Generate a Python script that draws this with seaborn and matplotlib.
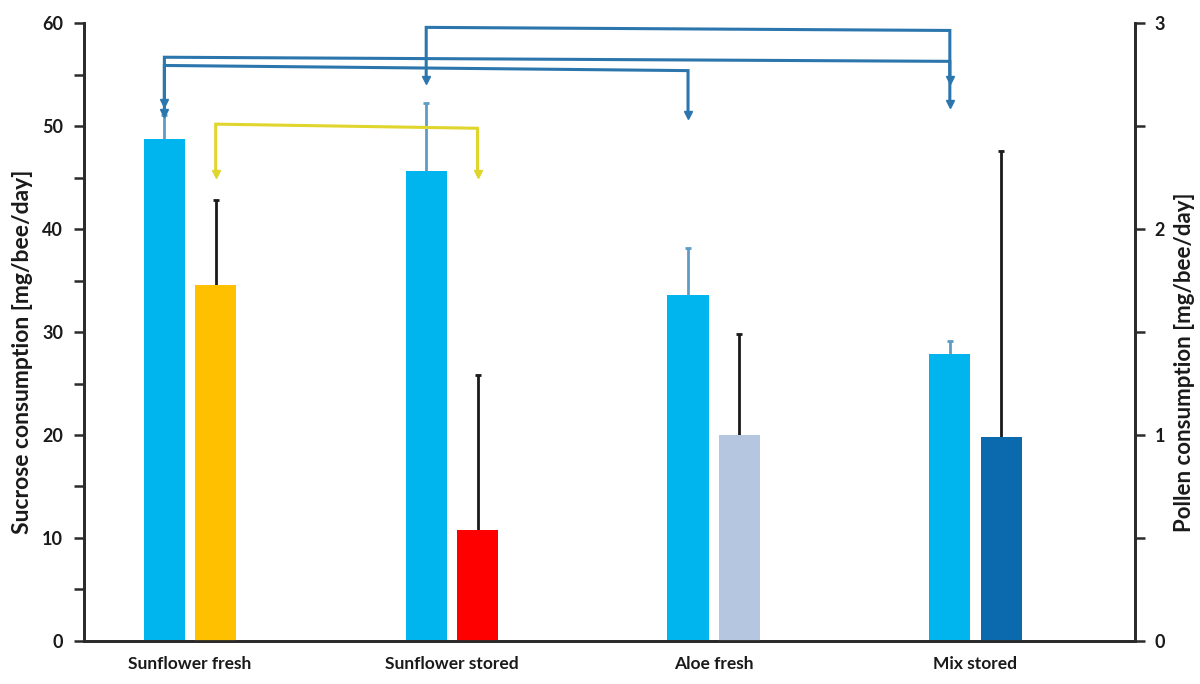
import numpy as np
import pandas as pd
import matplotlib
matplotlib.use("Agg")
import matplotlib.pyplot as plt
import seaborn as sns

# ---- data ----
categories = ["Sunflower fresh", "Sunflower stored", "Aloe fresh", "Mix stored"]
sucrose = [48.8, 45.6, 33.6, 27.9]
sucrose_err = [2.3, 6.7, 4.6, 1.2]
pollen = [1.73, 0.54, 1.00, 0.99]
pollen_err = [0.41, 0.75, 0.49, 1.39]

sucrose_color = "#00B4EE"
pollen_colors = ["#FFC000", "#FF0000", "#B4C6E0", "#0B6AAE"]

# significance brackets (sucrose, blue): group index pairs and heights
blue_from = [1, 0, 0]
blue_to = [3, 3, 2]
blue_top_left = [59.6, 56.7, 55.9]
blue_top_right = [59.3, 56.3, 55.4]
blue_end_left = [54.5, 52.3, 51.3]
blue_end_right = [54.5, 52.2, 51.1]
# pollen bracket (yellow), in pollen units
yellow_from = [0]
yellow_to = [1]
yellow_top_left = [2.51]
yellow_top_right = [2.49]
yellow_end = [2.27]

sucrose_ticks = [0, 10, 20, 30, 40, 50, 60]
pollen_ticks = [0, 1, 2, 3]

# ---- figure ----
sns.set_theme(style="white")
plt.rcParams["font.family"] = ["Lato", "DejaVu Sans"]
plt.rcParams["font.weight"] = "bold"

fig = plt.figure(figsize=(12, 6.84), dpi=100)
ax = fig.add_axes([0.07, 0.063, 0.876, 0.903])
ax2 = ax.twinx()

df_s = pd.DataFrame({"cat": categories, "val": sucrose, "measure": "Sucrose"})
df_p = pd.DataFrame({"cat": categories, "val": pollen, "measure": "Pollen"})
hue_order = ["Sucrose", "Pollen"]
pal = {"Sucrose": sucrose_color, "Pollen": "#888888"}

sns.barplot(data=df_s, x="cat", y="val", hue="measure", hue_order=hue_order,
            palette=pal, width=0.392, gap=0.2, dodge=True, errorbar=None,
            legend=False, saturation=1, ax=ax, zorder=2)
sns.barplot(data=df_p, x="cat", y="val", hue="measure", hue_order=hue_order,
            palette=pal, width=0.392, gap=0.2, dodge=True, errorbar=None,
            legend=False, saturation=1, ax=ax2, zorder=2)

for p, c in zip(ax2.patches, pollen_colors):
    p.set_facecolor(c)
    p.set_edgecolor("none")
for p in ax.patches:
    p.set_edgecolor("none")

s_x = [p.get_x() + p.get_width() / 2 for p in ax.patches]
p_x = [p.get_x() + p.get_width() / 2 for p in ax2.patches]

# one-sided (upper) error bars with caps only at the top
ax.errorbar(s_x, sucrose, yerr=[np.zeros(len(sucrose)), sucrose_err], fmt="none",
            ecolor="#5E9CC6", elinewidth=2, capsize=0, zorder=1.5)
ax.plot(s_x, np.add(sucrose, sucrose_err), ls="none", marker="_", ms=5, mew=2,
        color="#5E9CC6", zorder=1.6)
ax2.errorbar(p_x, pollen, yerr=[np.zeros(len(pollen)), pollen_err], fmt="none",
             ecolor="#1a1a1a", elinewidth=2, capsize=0, zorder=1.5)
ax2.plot(p_x, np.add(pollen, pollen_err), ls="none", marker="_", ms=5, mew=2,
         color="#1a1a1a", zorder=1.6)

blue_c = "#2C76AE"
for a, b, tl, tr, el, er in zip(blue_from, blue_to, blue_top_left, blue_top_right,
                                 blue_end_left, blue_end_right):
    ax.plot([s_x[a], s_x[a], s_x[b], s_x[b]], [el, tl, tr, er], color=blue_c,
            lw=2.2, zorder=5, solid_joinstyle="miter")
    ax.plot([s_x[a], s_x[b]], [el, er], ls="none", marker="v", ms=6,
            color=blue_c, zorder=6)

yel_c = "#E0D52C"
for a, b, tl, tr, e in zip(yellow_from, yellow_to, yellow_top_left,
                           yellow_top_right, yellow_end):
    ax2.plot([p_x[a], p_x[a], p_x[b], p_x[b]], [e, tl, tr, e], color=yel_c,
             lw=2.2, zorder=5, solid_joinstyle="miter")
    ax2.plot([p_x[a], p_x[b]], [e, e], ls="none", marker="v", ms=6,
             color=yel_c, zorder=6)

# ---- axes styling ----
ax.set_xlim(-0.405, 3.61)
ax.set_ylim(0, 60)
ax2.set_ylim(0, 3)
ax.set_yticks(sucrose_ticks)
ax.set_yticks(np.arange(5, 60, 10), minor=True)
ax2.set_yticks(pollen_ticks)
ax2.set_yticks(np.arange(0.5, 3, 1), minor=True)

for a in (ax, ax2):
    a.spines["top"].set_visible(False)
    for s in ("left", "right", "bottom"):
        a.spines[s].set_color("#2b2b2b")
        a.spines[s].set_linewidth(2)
    a.grid(False)

ax.tick_params(axis="y", which="both", direction="out", length=7, width=1.8,
               color="#2b2b2b", left=True, labelsize=13, pad=8)
ax2.tick_params(axis="y", which="both", direction="out", length=7, width=1.8,
                color="#2b2b2b", right=True, labelsize=13, pad=7)
ax.tick_params(axis="x", length=0, labelsize=12.5, pad=11)
for lab in ax.get_xticklabels() + ax.get_yticklabels() + ax2.get_yticklabels():
    lab.set_fontweight("bold")
    lab.set_color("#1a1a1a")

ax.set_xlabel("")
ax.set_ylabel("Sucrose consumption [mg/bee/day]", fontsize=16.5,
              fontweight="bold", color="#1a1a1a")
ax2.set_ylabel("Pollen consumption [mg/bee/day]", fontsize=16,
               fontweight="bold", color="#1a1a1a")
ax.yaxis.set_label_coords(-0.0485, 0.468)
ax2.yaxis.set_label_coords(1.037, 0.451)

fig.savefig("out.png", dpi=100)
